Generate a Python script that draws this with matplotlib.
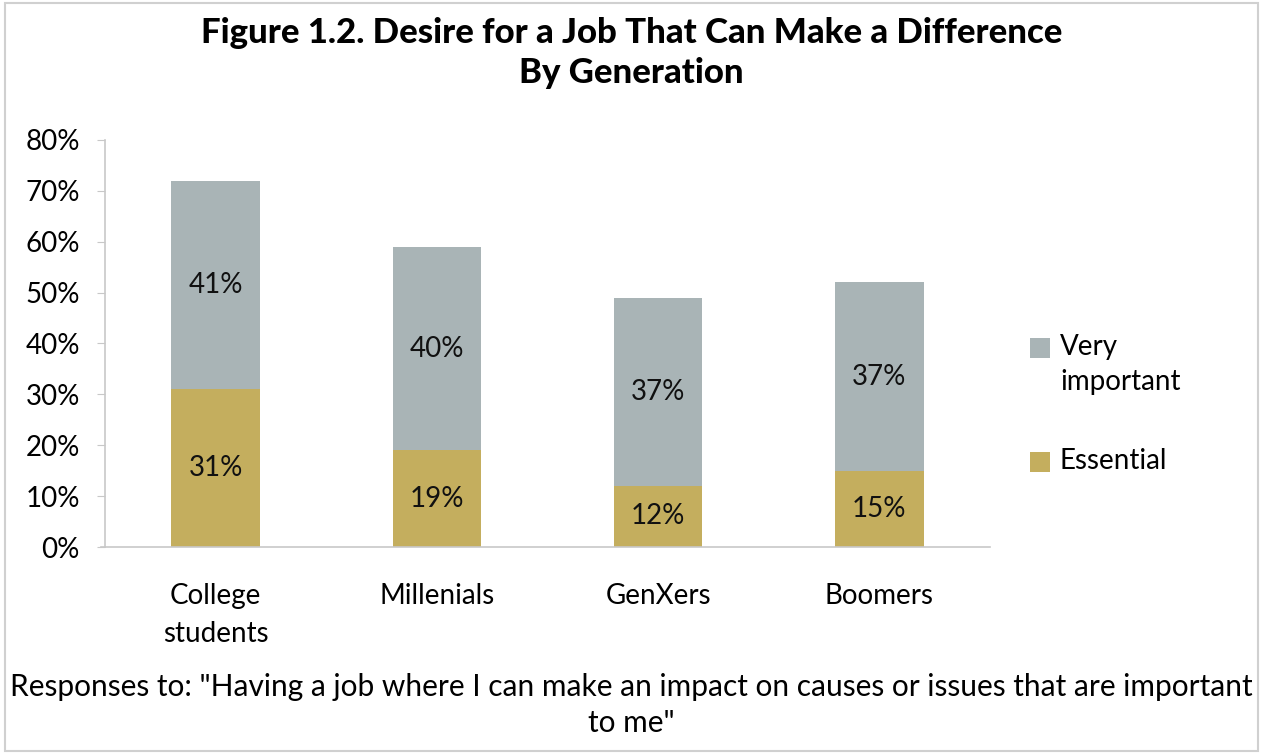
import matplotlib
matplotlib.use("Agg")
import matplotlib.pyplot as plt
from matplotlib.patches import Rectangle
import numpy as np

categories = ["College\nstudents", "Millenials", "GenXers", "Boomers"]
essential = [31, 19, 12, 15]
very_important = [41, 40, 37, 37]
y_ticks = [0, 10, 20, 30, 40, 50, 60, 70, 80]
series_names = ["Very\nimportant", "Essential"]

plt.rcParams["font.family"] = ["Lato", "DejaVu Sans"]

GRAY = "#a9b4b6"
GOLD = "#c4ae5e"
AXIS = "#c8c8c8"
FS = 20
W, H = 1263, 754

fig = plt.figure(figsize=(W / 100, H / 100), dpi=100)
fig.patches.append(Rectangle((0.004, 0.004), 0.992, 0.992, transform=fig.transFigure,
                             fill=False, edgecolor="#d0d0d0", linewidth=1.5))

ax = fig.add_axes([105 / W, 1 - 547 / H, (990 - 105) / W, (547 - 140) / H])
x = np.arange(len(categories))
b1 = ax.bar(x, essential, width=0.4, color=GOLD, label=series_names[1])
b2 = ax.bar(x, very_important, width=0.4, bottom=essential, color=GRAY, label=series_names[0])

for i in range(len(categories)):
    ax.text(x[i], essential[i] / 2, f"{essential[i]}%", ha="center", va="center",
            fontsize=FS, color="#111111")
    ax.text(x[i], essential[i] + very_important[i] / 2, f"{very_important[i]}%",
            ha="center", va="center", fontsize=FS, color="#111111")

ax.set_xlim(-0.5, len(categories) - 0.5)
ax.set_ylim(0, 80)
ax.set_yticks(y_ticks)
ax.set_yticklabels([f"{t}%" for t in y_ticks], fontsize=FS)
ax.set_xticks(x)
ax.set_xticklabels(categories, fontsize=FS, linespacing=1.55)
ax.tick_params(axis="x", length=0, pad=26)
ax.tick_params(axis="y", length=6, color=AXIS, pad=12, direction="out")
for s in ["top", "right"]:
    ax.spines[s].set_visible(False)
for s in ["left", "bottom"]:
    ax.spines[s].set_color(AXIS)
    ax.spines[s].set_linewidth(1.2)
ax.spines["bottom"].set_bounds(-0.52, len(categories) - 0.5)

fig.text(0.5, 1 - 53 / H, "Figure 1.2. Desire for a Job That Can Make a Difference\nBy Generation",
         ha="center", va="center", fontsize=25, fontweight="black", linespacing=1.3)

# Legend: swatch aligned with the first line of each entry
legend_items = [(series_names[0], GRAY, 348), (series_names[1], GOLD, 462)]
for name, color, ypix in legend_items:
    fig.patches.append(Rectangle((1030 / W, 1 - (ypix + 10) / H), 20 / W, 20 / H,
                                 transform=fig.transFigure, facecolor=color, edgecolor="none"))
    fig.text(1060 / W, 1 - (ypix - 14) / H, name, ha="left", va="top",
             fontsize=FS, linespacing=1.45)

fig.text(0.5, 1 - 705 / H,
         "Responses to: \"Having a job where I can make an impact on causes or issues that are important\nto me\"",
         ha="center", va="center", fontsize=21.5, linespacing=1.35)

fig.savefig("out.png", dpi=100)
